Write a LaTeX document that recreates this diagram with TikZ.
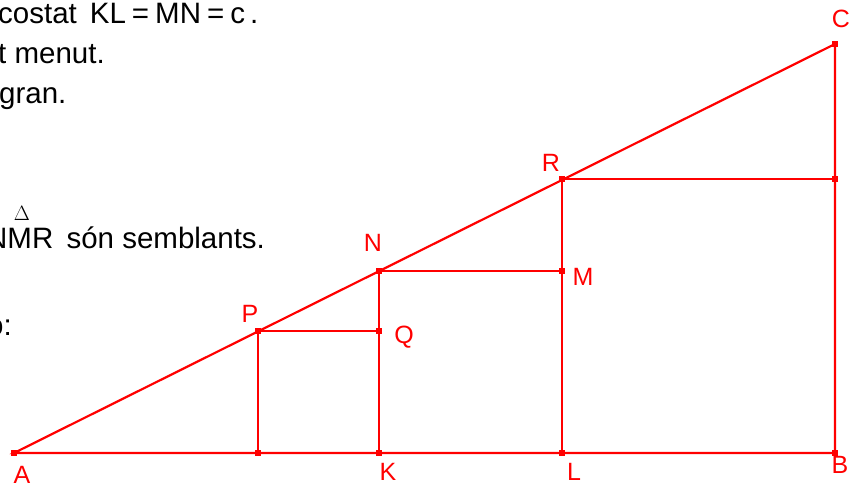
\documentclass[tikz,border=0pt]{standalone}
\usepackage{fontspec}
\setmainfont{Liberation Sans}

\begin{document}
\begin{tikzpicture}[x=1pt,y=-1pt,
        seg/.style={draw=red, line width=2.2pt},
        dot/.style={fill=red, inner sep=0pt, minimum size=6.5pt},
        lbl/.style={text=red, inner sep=0pt, font=\fontsize{25}{25}\selectfont},
        txt/.style={inner sep=0pt, anchor=base west, font=\fontsize{29.5}{29.5}\selectfont}]
        \useasboundingbox (0,0) rectangle (857,484);

        \coordinate (A) at (14,453);
        \coordinate (P0) at (258,453);
        \coordinate (K) at (379,453);
        \coordinate (L) at (562,453);
        \coordinate (B) at (835,453);
        \coordinate (P) at (258,331);
        \coordinate (Q) at (379,331);
        \coordinate (N) at (379,271);
        \coordinate (M) at (562,271);
        \coordinate (R) at (562,179);
        \coordinate (R1) at (835,179);
        \coordinate (C) at (835,44);

        \draw[seg] (A) -- (B) -- (C) -- cycle;
        \draw[seg] (P) -- (P0);
        \draw[seg] (P) -- (Q);
        \draw[seg] (N) -- (K);
        \draw[seg] (N) -- (M);
        \draw[seg] (R) -- (L);
        \draw[seg] (R) -- (R1);

        \foreach \p in {A,P0,K,L,B,P,Q,N,M,R,R1,C}
            \node[dot] at (\p) {};

        \node[lbl] (lA) at (22,475) {A};
        \node[lbl] (lK) at (388,472) {K};
        \node[lbl] (lL) at (574,472) {L};
        \node[lbl] (lB) at (840,465) {B};
        \node[lbl] (lC) at (841,19) {C};
        \node[lbl] (lR) at (551,163) {R};
        \node[lbl] (lM) at (583,277) {M};
        \node[lbl] (lN) at (373,243) {N};
        \node[lbl] (lQ) at (404,337) {Q};
        \node[lbl] (lP) at (250,314) {P};

        \node[txt] (t1) at (-2,24) {costat\hspace{13pt}KL\hspace{6pt}=\hspace{6pt}MN\hspace{6pt}=\hspace{6pt}c\hspace{5pt}.};
        \node[txt] (t2) at (-2,64) {t menut.};
        \node[txt] (t3) at (-1,104) {gran.};
        \node[txt] (t4) at (-14,248) {NMR\hspace{5pt} són semblants.};
        \node[font=\fontsize{21}{21}\selectfont, inner sep=0pt] (tri) at (22,213) {$\Delta$};
        \node[txt, anchor=base east] (t5) at (12,335) {o:};
    \end{tikzpicture}
\end{document}
